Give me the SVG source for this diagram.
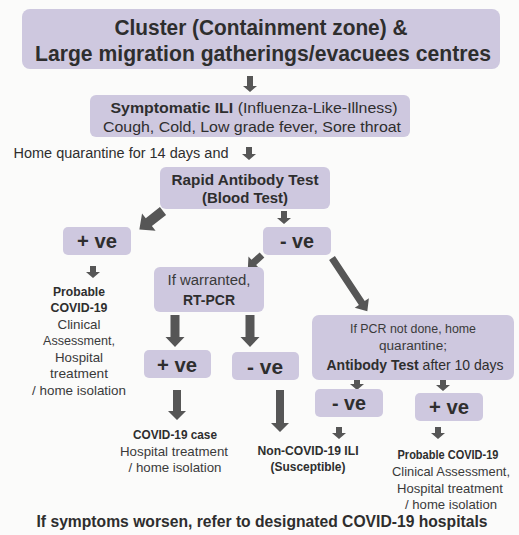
<svg xmlns="http://www.w3.org/2000/svg" width="519" height="535" viewBox="0 0 519 535">
<style>
.bg{fill:#fbfbfa}
.box{fill:#cec8df}
.arr{fill:#565656}
text{font-family:"Liberation Sans",Arial,sans-serif;fill:#2e2e2e;text-anchor:middle}
.b{font-weight:bold}
.n{fill:#3a3a3a}
</style>
<rect class="bg" x="0" y="0" width="519" height="535"/>

<g id="connectors">
<polygon class="arr" points="247,76 253,76 253,86 257,86 250,92 243,86 247,86"/>
<polygon class="arr" points="246,147 252,147 252,154 256,154 249,160 242,154 246,154"/>
<polygon class="arr" points="281,211 287,211 287,218 291,218 284,224 277,218 281,218"/>
<polygon class="arr" transform="translate(163,211) rotate(52)" points="-5,0 5,0 5,18 11,18 0,30 -11,18 -5,18"/>
<polygon class="arr" points="90,266 96,266 96,272 100,272 93,278 86,272 90,272"/>
<polygon class="arr" transform="translate(262,255) rotate(48)" points="-3.5,0 3.5,0 3.5,11 8,11 0,19 -8,11 -3.5,11"/>
<polygon class="arr" transform="translate(332,258) rotate(-33.5)" points="-3.5,0 3.5,0 3.5,54 8.5,54 0,64 -8.5,54 -3.5,54"/>
<polygon class="arr" points="170.5,315 179.5,315 179.5,337 184.5,337 175,347 165.5,337 170.5,337"/>
<polygon class="arr" points="245.5,315 254.5,315 254.5,337 259.5,337 250,347 240.5,337 245.5,337"/>
<polygon class="arr" points="173,390 181,390 181,411 186,411 177,420 168,411 173,411"/>
<polygon class="arr" points="276,390 284,390 284,423 289,423 280,432 271,423 276,423"/>
<polygon class="arr" points="354,377 360,377 360,384 364,384 357,390 350,384 354,384"/>
<polygon class="arr" points="440,378 446,378 446,385 450,385 443,391 436,385 440,385"/>
<polygon class="arr" points="336,427 342,427 342,433 346,433 339,439 332,433 336,433"/>
<polygon class="arr" points="435,427 441,427 441,433 445,433 438,439 431,433 435,433"/>
</g>

<g id="cluster">
<rect class="box" x="22" y="9" width="478" height="60" rx="8"/>
<text class="b" x="261" y="35" font-size="22" textLength="293" lengthAdjust="spacingAndGlyphs">Cluster (Containment zone) &amp;</text>
<text class="b" x="263" y="61" font-size="22" textLength="456" lengthAdjust="spacingAndGlyphs">Large migration gatherings/evacuees centres</text>
</g>

<g id="symptomatic">
<rect class="box" x="90" y="95" width="320" height="42" rx="6"/>
<text x="254" y="113" font-size="14" textLength="287" lengthAdjust="spacingAndGlyphs"><tspan class="b">Symptomatic ILI</tspan> (Influenza-Like-Illness)</text>
<text x="252" y="132" font-size="14.5" textLength="298" lengthAdjust="spacingAndGlyphs">Cough, Cold, Low grade fever, Sore throat</text>
</g>

<g id="home-quarantine">
<text x="121" y="158" font-size="14" textLength="215" lengthAdjust="spacingAndGlyphs">Home quarantine for 14 days and</text>
</g>

<g id="rapid-test">
<rect class="box" x="160" y="167" width="170" height="42" rx="6"/>
<text class="b" x="245" y="185" font-size="15" textLength="147" lengthAdjust="spacingAndGlyphs">Rapid Antibody Test</text>
<text class="b" x="245" y="203" font-size="15" textLength="86" lengthAdjust="spacingAndGlyphs">(Blood Test)</text>
</g>

<g id="pos1">
<rect class="box" x="63" y="227" width="68" height="28" rx="5"/>
<text class="b" x="97" y="248" font-size="20" textLength="40" lengthAdjust="spacingAndGlyphs">+ ve</text>
</g>

<g id="neg1">
<rect class="box" x="263" y="227" width="68" height="28" rx="5"/>
<text class="b" x="297" y="248" font-size="20" textLength="34" lengthAdjust="spacingAndGlyphs">- ve</text>
</g>

<g id="probable-left">
<text class="b" x="79" y="296" font-size="12.5" textLength="52" lengthAdjust="spacingAndGlyphs">Probable</text>
<text class="b" x="79" y="312" font-size="12.5" textLength="57" lengthAdjust="spacingAndGlyphs">COVID-19</text>
<text class="n" x="79" y="329" font-size="13" textLength="43" lengthAdjust="spacingAndGlyphs">Clinical</text>
<text class="n" x="79" y="345" font-size="13" textLength="72" lengthAdjust="spacingAndGlyphs">Assessment,</text>
<text class="n" x="79" y="362" font-size="13" textLength="48" lengthAdjust="spacingAndGlyphs">Hospital</text>
<text class="n" x="79" y="378" font-size="13" textLength="58" lengthAdjust="spacingAndGlyphs">treatment</text>
<text class="n" x="79" y="395" font-size="13" textLength="94" lengthAdjust="spacingAndGlyphs">/ home isolation</text>
</g>

<g id="rt-pcr">
<rect class="box" x="154" y="267" width="110" height="45" rx="6"/>
<text class="n" x="209" y="285" font-size="14" textLength="83" lengthAdjust="spacingAndGlyphs">If warranted,</text>
<text class="b" x="209" y="305" font-size="14" textLength="52" lengthAdjust="spacingAndGlyphs">RT-PCR</text>
</g>

<g id="pcr-not-done">
<rect class="box" x="312" y="315" width="202" height="65" rx="7"/>
<text class="n" x="413" y="333" font-size="12.5" textLength="126" lengthAdjust="spacingAndGlyphs">If PCR not done, home</text>
<text class="n" x="413" y="350" font-size="12.5" textLength="68" lengthAdjust="spacingAndGlyphs">quarantine;</text>
<text x="415" y="370" font-size="14.5" textLength="177" lengthAdjust="spacingAndGlyphs"><tspan class="b">Antibody Test</tspan> after 10 days</text>
</g>

<g id="pos2">
<rect class="box" x="144" y="350" width="67" height="28" rx="5"/>
<text class="b" x="177" y="372" font-size="20" textLength="40" lengthAdjust="spacingAndGlyphs">+ ve</text>
</g>

<g id="neg2">
<rect class="box" x="232" y="352" width="67" height="28" rx="5"/>
<text class="b" x="265" y="374" font-size="20" textLength="36" lengthAdjust="spacingAndGlyphs">- ve</text>
</g>

<g id="neg3">
<rect class="box" x="315" y="389" width="68" height="28" rx="5"/>
<text class="b" x="349" y="410" font-size="20" textLength="34" lengthAdjust="spacingAndGlyphs">- ve</text>
</g>

<g id="pos3">
<rect class="box" x="415" y="393" width="68" height="28" rx="5"/>
<text class="b" x="449" y="414" font-size="20" textLength="40" lengthAdjust="spacingAndGlyphs">+ ve</text>
</g>

<g id="covid-case">
<text class="b" x="175" y="439" font-size="12.5" textLength="84" lengthAdjust="spacingAndGlyphs">COVID-19 case</text>
<text class="n" x="174" y="456" font-size="13" textLength="108" lengthAdjust="spacingAndGlyphs">Hospital treatment</text>
<text class="n" x="175" y="472" font-size="13" textLength="93" lengthAdjust="spacingAndGlyphs">/ home isolation</text>
</g>

<g id="non-covid">
<text class="b" x="308" y="455" font-size="12.5" textLength="101" lengthAdjust="spacingAndGlyphs">Non-COVID-19 ILI</text>
<text class="b" x="308" y="471" font-size="12.5" textLength="75" lengthAdjust="spacingAndGlyphs">(Susceptible)</text>
</g>

<g id="probable-right">
<text class="b" x="448" y="459" font-size="12.5" textLength="101" lengthAdjust="spacingAndGlyphs">Probable COVID-19</text>
<text class="n" x="451" y="476" font-size="13" textLength="118" lengthAdjust="spacingAndGlyphs">Clinical Assessment,</text>
<text class="n" x="450" y="493" font-size="13" textLength="106" lengthAdjust="spacingAndGlyphs">Hospital treatment</text>
<text class="n" x="451" y="509" font-size="13" textLength="92" lengthAdjust="spacingAndGlyphs">/ home isolation</text>
</g>

<g id="footer">
<text class="b" x="262" y="527" font-size="16.5" textLength="451" lengthAdjust="spacingAndGlyphs">If symptoms worsen, refer to designated COVID-19 hospitals</text>
</g>
</svg>
